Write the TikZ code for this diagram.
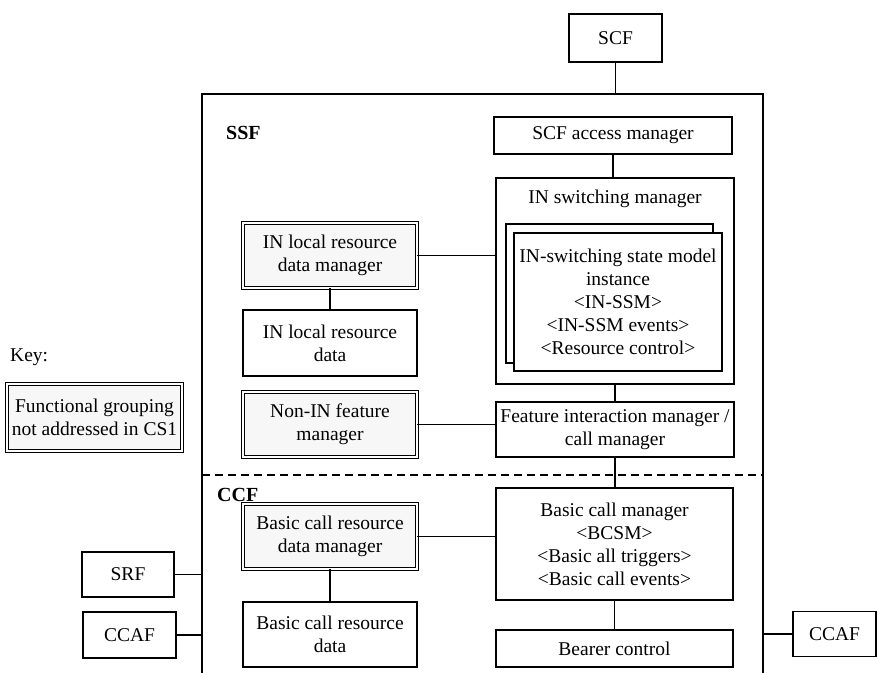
\documentclass[tikz,border=0pt]{standalone}
\usepackage{fontspec}
\setmainfont{Liberation Serif}
\begin{document}
\begin{tikzpicture}[x=1pt,y=-1pt,
  txt/.style={font=\fontsize{19.5}{23}\selectfont, inner sep=0pt, align=center},
  fbox/.style={txt, draw, line width=1.1pt},
  grpbox/.style={txt, draw, line width=0.8pt, double, double distance=1.6pt, fill=gray!6},
  conn/.style={line width=1.1pt},
  title/.style={font=\fontsize{20}{23}\selectfont\bfseries, inner sep=0pt, anchor=west}]
\useasboundingbox (0,0) rectangle (877,673);

% SSF / CCF enclosure, open at the bottom
\coordinate (fbl) at (202,673);
\coordinate (ftl) at (202,94);
\coordinate (ftr) at (763,94);
\coordinate (fbr) at (763,673);
\draw[conn] (fbl) -- (ftl) -- (ftr) -- (fbr);
\coordinate (divl) at (202,475);
\coordinate (divr) at (763,475);
\draw[line width=1.3pt, dash pattern=on 8pt off 5pt] (divl) -- (divr);

\node[title] (ssf) at (226,133) {SSF};
\node[title] (ccf) at (217,495) {CCF};

% external functions
\node[fbox, minimum width=93pt, minimum height=48pt] (scf) at (615.5,38) {SCF};
\node[fbox, minimum width=92pt, minimum height=45pt] (srf) at (128,574.5) {SRF};
\node[fbox, minimum width=93pt, minimum height=46pt] (ccafl) at (129.5,635) {CCAF};
\node[fbox, minimum width=83pt, minimum height=45pt] (ccafr) at (834.5,634) {CCAF};

% key
\node[txt, anchor=west] (keylbl) at (10,357) {Key:};
\node[grpbox, minimum width=175pt, minimum height=67pt] (keybox) at (94.5,417.5)
  {Functional grouping\\not addressed in CS1};

% SSF contents
\node[fbox, minimum width=238pt, minimum height=37pt] (scfam) at (613,135.5) {SCF access manager};
\node[fbox, minimum width=238pt, minimum height=206pt] (insm) at (615,281) {};
\node[txt] (insmlbl) at (615,199) {IN switching manager};
\node[fbox, fill=white, minimum width=207pt, minimum height=139pt] (ssmback) at (609.5,293.5) {};
\node[fbox, fill=white, minimum width=208pt, minimum height=138pt] (ssm) at (618,302)
  {IN-switching state model\\instance\\<IN-SSM>\\<IN-SSM events>\\<Resource control>};

\node[grpbox, minimum width=174pt, minimum height=65pt] (ilrdm) at (330,255.5)
  {IN local resource\\data manager};
\node[fbox, minimum width=174pt, minimum height=66pt] (ilrd) at (330,343)
  {IN local resource\\data};
\node[grpbox, minimum width=174pt, minimum height=65pt] (nifm) at (330,424.5)
  {Non-IN feature\\manager};
\node[fbox, minimum width=238pt, minimum height=55pt] (fim) at (615,429.5)
  {Feature interaction manager /\\call manager};

% CCF contents
\node[grpbox, minimum width=174pt, minimum height=65pt] (bcrdm) at (330,536.5)
  {Basic call resource\\data manager};
\node[fbox, minimum width=174pt, minimum height=65pt] (bcrd) at (330,634.5)
  {Basic call resource\\data};
\node[fbox, minimum width=237pt, minimum height=112pt] (bcm) at (614.5,544)
  {Basic call manager\\<BCSM>\\<Basic all triggers>\\<Basic call events>};
\node[fbox, minimum width=237pt, minimum height=37pt] (bearer) at (614.5,648.5) {Bearer control};

% connectors
\draw[conn] (scf.south) -- (scf.south |- ftl);
\draw[conn] (scfam.south) -- (scfam.south |- insm.north);
\draw[conn] (ilrdm.east) -- (ilrdm.east -| insm.west);
\draw[conn] (ilrdm.south) -- (ilrd.north);
\draw[conn] (insm.south) -- (insm.south |- fim.north);
\draw[conn] (nifm.east) -- (nifm.east -| fim.west);
\draw[conn] (fim.south) -- (fim.south |- bcm.north);
\draw[conn] (bcrdm.east) -- (bcrdm.east -| bcm.west);
\draw[conn] (bcrdm.south) -- (bcrd.north);
\draw[conn] (bcm.south) -- (bearer.north);
\draw[conn] (srf.east) -- (srf.east -| ftl);
\draw[conn] (ccafl.east) -- (ccafl.east -| ftl);
\draw[conn] (ccafr.west) -- (ccafr.west -| ftr);
\end{tikzpicture}
\end{document}
